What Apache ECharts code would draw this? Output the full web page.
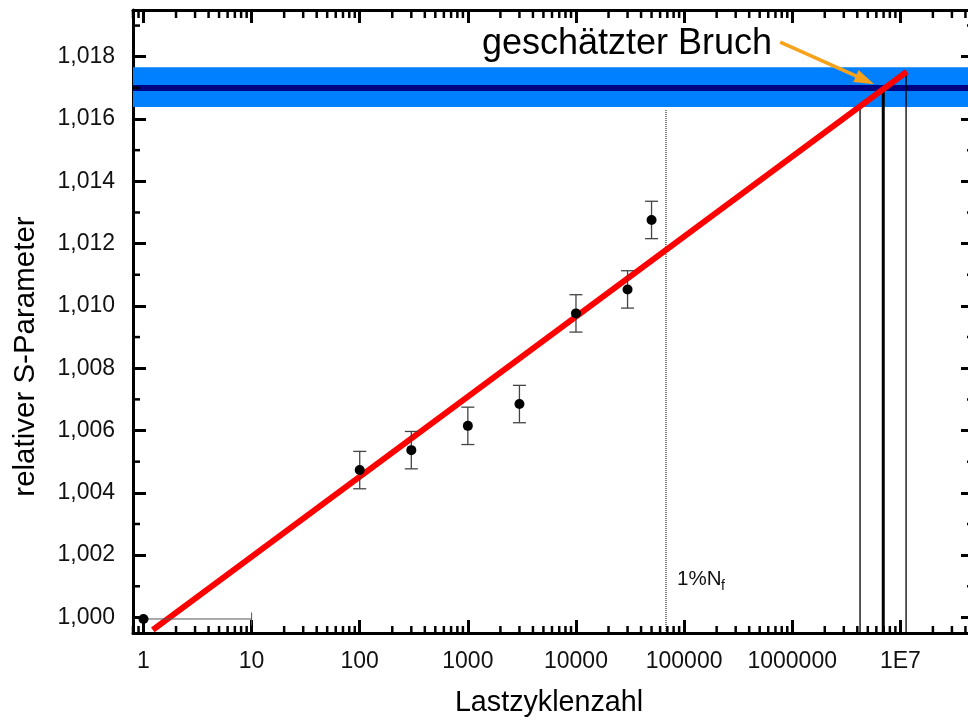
<!DOCTYPE html>
<html>
<head>
<meta charset="utf-8">
<script src="https://cdn.jsdelivr.net/npm/echarts@6/dist/echarts.min.js"></script>
<style>
html,body{margin:0;padding:0;background:#fff;}
#c{width:968px;height:720px;}
</style>
</head>
<body>
<div id="c"></div>
<script>
// ---- axis ticks ----
const xTickValues = [1, 10, 100, 1000, 10000, 100000, 1000000, 10000000];
const xTickLabels = ['1', '10', '100', '1000', '10000', '100000', '1000000', '1E7'];
const yTickValues = [1.000, 1.002, 1.004, 1.006, 1.008, 1.010, 1.012, 1.014, 1.016, 1.018];
const yTickLabels = ['1,000', '1,002', '1,004', '1,006', '1,008', '1,010', '1,012', '1,014', '1,016', '1,018'];
const yMinorTicks = [1.001, 1.003, 1.005, 1.007, 1.009, 1.011, 1.013, 1.015, 1.017, 1.019];
const xMinorMultipliers = [2, 3, 4, 5, 6, 7, 8, 9];

// ---- measured data ----
const pointX = [1, 100, 300, 1000, 3000, 10000, 30000, 50000];
const pointY = [0.99995, 1.00473, 1.00537, 1.00615, 1.00685, 1.00976, 1.01053, 1.01276];
const pointYErr = [0, 0.0006, 0.0006, 0.0006, 0.0006, 0.0006, 0.0006, 0.0006];
const pointXErrPlus = [9, 0, 0, 0, 0, 0, 0, 0];

// ---- fit line ----
const fitX = [1.22, 1.15e7];
const fitY = [0.9996, 1.01752];

// ---- estimated fracture band ----
const bandLow = 1.01639;
const bandMean = 1.01700;
const bandHigh = 1.01766;

// ---- vertical marker lines ----
const markerX = [6.8e4, 4.24e6, 6.95e6, 1.13e7];
const markerTop = [1.01629, 1.01636, 1.01698, 1.01748];

// ---- annotation arrow ----
const arrowFrom = [7.74e5, 1.01847];
const arrowTo = [5.73e6, 1.01712];

const X_MIN = 0.8, X_MAX = 4.8e7, Y_MIN = 0.9995, Y_MAX = 1.0195;
const FONT = '"Liberation Sans", Arial, sans-serif';

const xMinorTicks = [];
for (let k = -1; k <= 7; k++) {
  xMinorMultipliers.forEach(m => {
    const v = m * Math.pow(10, k);
    if (v >= X_MIN && v < X_MAX) xMinorTicks.push(v);
  });
}

function fmtX(v) {
  for (let i = 0; i < xTickValues.length; i++) {
    if (Math.abs(Math.log10(v) - Math.log10(xTickValues[i])) < 1e-6) return xTickLabels[i];
  }
  return '';
}
function fmtY(v) {
  for (let i = 0; i < yTickValues.length; i++) {
    if (Math.abs(v - yTickValues[i]) < 1e-7) return yTickLabels[i];
  }
  return '';
}

const lineAxis = {show: true, onZero: false, lineStyle: {color: '#000', width: 3}};
const tickAxis = {show: true, inside: true, length: 13, lineStyle: {color: '#000', width: 3}};

const chart = echarts.init(document.getElementById('c'), null, {renderer: 'canvas'});

const series = [];

// band
series.push({
  type: 'custom', z: 1, silent: true,
  encode: {x: [0, 2], y: [1, 3]},
  data: [[X_MIN, bandLow, X_MAX, bandHigh]],
  renderItem: (params, api) => {
    const a = api.coord([api.value(0), api.value(3)]);
    const b = api.coord([api.value(2), api.value(1)]);
    return {type: 'rect', shape: {x: a[0], y: a[1], width: b[0] - a[0], height: b[1] - a[1]}, style: {fill: '#0080FF'}};
  }
});
// mean line
series.push({
  type: 'line', z: 2, silent: true, showSymbol: false, symbol: 'none',
  data: [[X_MIN, bandMean], [X_MAX, bandMean]],
  lineStyle: {color: '#000080', width: 6}
});
// vertical markers
const markerStyles = [
  {color: '#000', width: 1, type: 'dotted'},
  {color: '#000', width: 1.3, type: 'solid'},
  {color: '#000', width: 3, type: 'solid'},
  {color: '#000', width: 1.3, type: 'solid'}
];
markerX.forEach((x, i) => {
  series.push({
    type: 'line', z: 3, silent: true, showSymbol: false, symbol: 'none',
    data: [[x, Y_MIN], [x, markerTop[i]]],
    lineStyle: markerStyles[i]
  });
});
// fit line
series.push({
  type: 'line', z: 4, silent: true, showSymbol: false, symbol: 'none',
  data: fitX.map((x, i) => [x, fitY[i]]),
  lineStyle: {color: '#FF0000', width: 6}
});
// error bars
series.push({
  type: 'custom', z: 5, silent: true,
  encode: {x: 0, y: 1},
  data: pointX.map((x, i) => [x, pointY[i], pointYErr[i], pointXErrPlus[i]]),
  renderItem: (params, api) => {
    const x = api.value(0), y = api.value(1), ey = api.value(2), ex = api.value(3);
    const style = {stroke: '#444', lineWidth: 1.3};
    const cap = 6.5;
    const ch = [];
    if (ey > 0) {
      const t = api.coord([x, y + ey]), b = api.coord([x, y - ey]);
      ch.push({type: 'line', shape: {x1: t[0], y1: t[1], x2: b[0], y2: b[1]}, style});
      ch.push({type: 'line', shape: {x1: t[0] - cap, y1: t[1], x2: t[0] + cap, y2: t[1]}, style});
      ch.push({type: 'line', shape: {x1: b[0] - cap, y1: b[1], x2: b[0] + cap, y2: b[1]}, style});
    }
    if (ex > 0) {
      const a = api.coord([x, y]), r = api.coord([x + ex, y]);
      ch.push({type: 'line', shape: {x1: a[0], y1: a[1], x2: r[0], y2: r[1]}, style: {stroke: '#555', lineWidth: 1}});
      ch.push({type: 'line', shape: {x1: r[0], y1: r[1] - cap, x2: r[0], y2: r[1] + cap}, style: {stroke: '#555', lineWidth: 1}});
    }
    return {type: 'group', children: ch};
  }
});
// points
series.push({
  type: 'scatter', z: 6, silent: true,
  symbol: 'circle', symbolSize: 10,
  itemStyle: {color: '#000', opacity: 1},
  data: pointX.map((x, i) => [x, pointY[i]])
});
// arrow
series.push({
  type: 'custom', z: 7, silent: true,
  encode: {x: [0, 2], y: [1, 3]},
  data: [[arrowFrom[0], arrowFrom[1], arrowTo[0], arrowTo[1]]],
  renderItem: (params, api) => {
    const a = api.coord([api.value(0), api.value(1)]);
    const b = api.coord([api.value(2), api.value(3)]);
    const dx = b[0] - a[0], dy = b[1] - a[1], L = Math.hypot(dx, dy), ux = dx / L, uy = dy / L;
    const hl = 20, hw = 6.5;
    const base = [b[0] - ux * hl, b[1] - uy * hl];
    const C = '#F7A21B';
    return {type: 'group', children: [
      {type: 'line', shape: {x1: a[0], y1: a[1], x2: base[0] + ux * 3, y2: base[1] + uy * 3}, style: {stroke: C, lineWidth: 3.5}},
      {type: 'polygon', shape: {points: [[b[0], b[1]], [base[0] - uy * hw, base[1] + ux * hw], [base[0] + uy * hw, base[1] - ux * hw]]}, style: {fill: C}}
    ]};
  }
});
// minor ticks x
series.push({
  type: 'custom', z: 8, silent: true,
  encode: {x: 0, y: 1},
  data: xMinorTicks.map(v => [v, Y_MIN]),
  renderItem: (params, api) => {
    const v = api.value(0);
    const b = api.coord([v, Y_MIN]), t = api.coord([v, Y_MAX]);
    const style = {stroke: '#000', lineWidth: 2.5};
    return {type: 'group', children: [
      {type: 'line', shape: {x1: b[0], y1: b[1], x2: b[0], y2: b[1] - 7}, style},
      {type: 'line', shape: {x1: t[0], y1: t[1], x2: t[0], y2: t[1] + 8}, style}
    ]};
  }
});
// minor ticks y
series.push({
  type: 'custom', z: 8, silent: true,
  encode: {x: 0, y: 1},
  data: yMinorTicks.map(v => [X_MIN, v]),
  renderItem: (params, api) => {
    const v = api.value(1);
    const l = api.coord([X_MIN, v]), r = api.coord([X_MAX, v]);
    const style = {stroke: '#000', lineWidth: 2.5};
    return {type: 'group', children: [
      {type: 'line', shape: {x1: l[0], y1: l[1], x2: l[0] + 7, y2: l[1]}, style},
      {type: 'line', shape: {x1: r[0], y1: r[1], x2: r[0] - 7, y2: r[1]}, style}
    ]};
  }
});

const option = {
  animation: false,
  backgroundColor: '#fff',
  grid: {left: 133, top: 10, width: 841, height: 623, containLabel: false, outerBoundsMode: 'none'},
  xAxis: [
    {type: 'log', logBase: 10, min: X_MIN, max: X_MAX, position: 'bottom',
     axisLine: lineAxis, axisTick: tickAxis,
     axisLabel: {show: true, margin: 17, fontSize: 23, color: '#111', fontFamily: FONT, formatter: fmtX},
     splitLine: {show: false}, minorTick: {show: false}},
    {type: 'log', logBase: 10, min: X_MIN, max: X_MAX, position: 'top',
     axisLine: lineAxis, axisTick: tickAxis, axisLabel: {show: false},
     splitLine: {show: false}, minorTick: {show: false}}
  ],
  yAxis: [
    {type: 'value', min: Y_MIN, max: Y_MAX, splitNumber: 10, position: 'left',
     axisLine: lineAxis, axisTick: tickAxis,
     axisLabel: {show: true, margin: 18, fontSize: 23, color: '#111', fontFamily: FONT, formatter: fmtY},
     splitLine: {show: false}, minorTick: {show: false}},
    {type: 'value', min: Y_MIN, max: Y_MAX, splitNumber: 10, position: 'right',
     axisLine: lineAxis, axisTick: tickAxis, axisLabel: {show: false},
     splitLine: {show: false}, minorTick: {show: false}}
  ],
  graphic: [
    {type: 'text', x: 627, y: 44.4, silent: true,
     style: {text: 'geschätzter Bruch', fontSize: 36, fontFamily: FONT, fill: '#000', align: 'center', verticalAlign: 'middle'}},
    {type: 'text', x: 677, y: 579.5, silent: true,
     style: {text: '1%N', fontSize: 20.5, fontFamily: FONT, fill: '#111', align: 'left', verticalAlign: 'middle'}},
    {type: 'text', x: 721, y: 586.3, silent: true,
     style: {text: 'f', fontSize: 14, fontFamily: FONT, fill: '#111', align: 'left', verticalAlign: 'middle'}},
    {type: 'text', x: 549, y: 703.3, silent: true,
     style: {text: 'Lastzyklenzahl', fontSize: 28.7, fontFamily: FONT, fill: '#000', align: 'center', verticalAlign: 'middle'}},
    {type: 'text', x: 25.9, y: 356.5, rotation: Math.PI / 2, silent: true,
     style: {text: 'relativer S-Parameter', fontSize: 29.5, fontFamily: FONT, fill: '#000', align: 'center', verticalAlign: 'middle'}}
  ],
  series: series
};
chart.setOption(option);
</script>
</body>
</html>
